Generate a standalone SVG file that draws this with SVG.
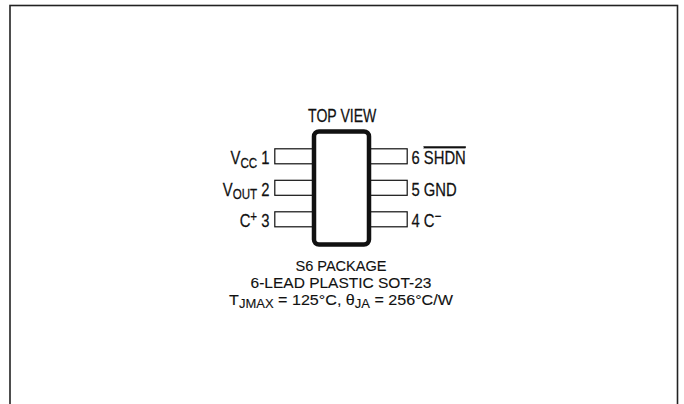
<svg xmlns="http://www.w3.org/2000/svg" width="684" height="404" viewBox="0 0 684 404">
<style>
text{font-family:"Liberation Sans",Arial,sans-serif;font-size:18.5px;fill:#111;stroke:#111;stroke-width:0.25}
.sub{font-size:14.5px}
.cap{font-size:15.5px;stroke-width:0.12}
.csub{font-size:12.5px}
.pin{fill:#fff;stroke:#111;stroke-width:1.2}
.body{fill:#fff;stroke:#111;stroke-width:4.5}
</style>
<rect x="10" y="5.5" width="667.5" height="420" fill="#fff" stroke="#222" stroke-width="1.6"/>
<g id="connectors"></g>
<g id="package">
<rect class="pin" x="274.8" y="148.8" width="39" height="15"/>
<rect class="pin" x="274.8" y="180.3" width="39" height="15"/>
<rect class="pin" x="274.8" y="211.8" width="39" height="15"/>
<rect class="pin" x="369" y="148.8" width="38.2" height="15"/>
<rect class="pin" x="369" y="180.3" width="38.2" height="15"/>
<rect class="pin" x="369" y="211.8" width="38.2" height="15"/>
<rect class="body" x="314" y="131.5" width="55" height="113" rx="5"/>
<g transform="translate(342.2,121.7) scale(0.76,1)"><text text-anchor="middle">TOP VIEW</text></g>
</g>
<g id="pin-labels">
<g transform="translate(269.5,164) scale(0.8,1)"><text text-anchor="end">V<tspan class="sub" dy="3.5">CC</tspan><tspan dy="-3.5"> 1</tspan></text></g>
<g transform="translate(269.5,195.5) scale(0.8,1)"><text text-anchor="end">V<tspan class="sub" dy="3.5">OUT</tspan><tspan dy="-3.5"> 2</tspan></text></g>
<g transform="translate(269.5,227) scale(0.8,1)"><text text-anchor="end">C<tspan class="sub" dy="-6">+</tspan><tspan dy="6"> 3</tspan></text></g>
<g transform="translate(411.5,164) scale(0.8,1)"><text>6 <tspan text-decoration="overline">SHDN</tspan></text></g>
<g transform="translate(411.5,195.5) scale(0.8,1)"><text>5 GND</text></g>
<g transform="translate(411.5,227) scale(0.8,1)"><text>4 C<tspan class="sub" dy="-6">−</tspan></text></g>
</g>
<g id="caption">
<g transform="translate(341,270.7) scale(0.94,1)"><text class="cap" text-anchor="middle">S6 PACKAGE</text></g>
<g transform="translate(341,288) scale(1,1)"><text class="cap" text-anchor="middle">6-LEAD PLASTIC SOT-23</text></g>
<g transform="translate(341,305) scale(1.04,1)"><text class="cap" text-anchor="middle">T<tspan class="csub" dy="3">JMAX</tspan><tspan dy="-3"> = 125°C, θ</tspan><tspan class="csub" dy="3">JA</tspan><tspan dy="-3"> = 256°C/W</tspan></text></g>
</g>
</svg>
